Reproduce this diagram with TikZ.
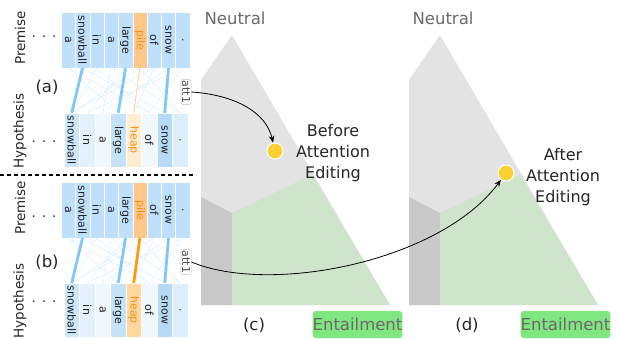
\documentclass[tikz,border=0pt]{standalone}
\usepackage{fontspec}
\setmainfont{DejaVu Sans}
\usetikzlibrary{arrows.meta}
\definecolor{premblue}{HTML}{BEE0FA}
\definecolor{pileorange}{HTML}{FFC88A}
\definecolor{wordorange}{HTML}{FF8C1A}
\definecolor{tokfg}{HTML}{222222}
\definecolor{heapa}{HTML}{FFEDD2}
\definecolor{heapb}{HTML}{FFD79F}
\definecolor{hypa}{HTML}{CFE7FA}
\definecolor{hypb}{HTML}{E2F1FC}
\definecolor{hypc}{HTML}{F0F7FE}
\definecolor{hypd}{HTML}{C4E2F8}
\definecolor{hype}{HTML}{B6DAF5}
\definecolor{hypf}{HTML}{DDEEFB}
\definecolor{linkblue}{HTML}{80C6F7}
\definecolor{linkorange}{HTML}{FF9A0A}
\definecolor{neutralgray}{HTML}{E3E3E3}
\definecolor{contragray}{HTML}{C9C9C9}
\definecolor{entailgreen}{HTML}{CFE5CB}
\definecolor{entailbox}{HTML}{80E680}
\definecolor{labelgray}{HTML}{6A6A6A}
\definecolor{dotyellow}{HTML}{F9D132}
\tikzset{
  premtok/.style = {inner sep=0pt, minimum width=14.33pt, minimum height=56pt,
    draw=white, line width=0.3pt, font=\fontsize{11}{12}\selectfont},
  hyptok/.style = {premtok, minimum width=15.5pt, minimum height=54pt},
  faintlink/.style = {draw=linkblue!28, line width=0.5pt},
  stronglink/.style = {draw=linkblue, line width=2.8pt},
  attbox/.style = {draw=black!25, fill=white, rounded corners=2pt, inner sep=1.2pt,
    text=black!70, font=\fontsize{11}{12}\selectfont},
  sidelabel/.style = {font=\fontsize{13.5}{15}\selectfont, text=black!85},
  apex/.style = {text=labelgray, font=\fontsize{16.5}{18}\selectfont},
  entail/.style = {fill=entailbox, rounded corners=3pt, minimum width=89pt,
    minimum height=27pt, inner sep=0pt, text=labelgray, font=\fontsize{16.5}{18}\selectfont},
  scorept/.style = {circle, fill=dotyellow, draw=white, line width=1pt,
    minimum size=16pt, inner sep=0pt},
  edittext/.style = {align=center, font=\fontsize{16}{21}\selectfont, text=black!85}
}

\begin{document}
\begin{tikzpicture}[x=1pt,y=-1pt,>={Stealth[length=7pt,width=5.5pt]}]
  \useasboundingbox (0,0) rectangle (618,339);
  % simplex panels
  \foreach \s/\n/\lx in {0/c/254,208/d/259} {
    \begin{scope}[xshift=\s]
      \fill[neutralgray] (201,80) -- (232,35) -- (390,305) -- (201,305) -- cycle;
      \fill[contragray] (201,197) -- (232,213) -- (232,305) -- (201,305) -- cycle;
      \fill[entailgreen] (232,213) -- (312,175) -- (390,305) -- (232,305) -- cycle;
      \node[apex] (neutral\n) at (235,18) {Neutral};
      \node[entail] (entail\n) at (357.5,324.5) {Entailment};
      \node[sidelabel, font=\fontsize{16.5}{18}\selectfont] (panel\n) at (\lx,325) {(\n)};
    \end{scope}
  }
  % attention views
  \foreach \p/\dy/\heapc/\oc/\lw/\ya/\yb/\ty in
      {a/0/heapa/linkorange!45/0.8pt/37/142/87,b/170/heapb/linkorange/2.8pt/217/302/262} {
    \foreach \w/\cl/\tc [count=\i] in {a/premblue/tokfg,snowball/premblue/tokfg,in/premblue/tokfg,a/premblue/tokfg,large/premblue/tokfg,pile/pileorange/wordorange,of/premblue/tokfg,snow/premblue/tokfg,./premblue/tokfg}
      \node[premtok, fill=\cl, text=\tc] (p\p\i) at ({61+14.33*(\i-0.5)},{40+\dy}) {\rotatebox{-90}{\w}};
    \foreach \w/\cl/\tc [count=\i] in {snowball/hypa/tokfg,in/hypb/tokfg,a/hypc/tokfg,large/hypd/tokfg,heap/\heapc/wordorange,of/hypc/tokfg,snow/hype/tokfg,./hypf/tokfg}
      \node[hyptok, fill=\cl, text=\tc] (h\p\i) at ({64+15.5*(\i-0.5)},{140+\dy}) {\rotatebox{-90}{\w}};
    % weak links
    \foreach \s/\e in {1/4,2/7,3/1,3/6,4/8,5/2,6/8,7/1,7/5,8/3,9/2,9/6,1/6,4/3,6/1}
      \draw[faintlink] (p\p\s.south) -- (h\p\e.north);
    % strong links
    \draw[stronglink] (p\p2.south) -- (h\p1.north);
    \draw[stronglink] (p\p5.south) -- (h\p4.north);
    \draw[stronglink] (p\p8.south) -- (h\p7.north);
    \draw[draw=\oc, line width=\lw] (p\p6.south) -- (h\p5.north);
    \node[attbox] (att\p) at (186,{92+\dy}) {\rotatebox{-90}{att1}};
    % side labels
    \node[sidelabel, rotate=90] (prem\p) at (20,{38+\dy}) {Premise};
    \node[sidelabel, rotate=90] (hyp\p) at (20,{131+\dy}) {Hypothesis};
    \node[sidelabel] (pdots\p) at (44,\ya) {.\hspace{6pt}.\hspace{6pt}.};
    \node[sidelabel] (hdots\p) at (44,\yb) {.\hspace{6pt}.\hspace{6pt}.};
    \node[sidelabel, font=\fontsize{16.5}{18}\selectfont] (tag\p) at (47,\ty) {(\p)};
  }
  \draw[dashed, dash pattern=on 4pt off 3pt, line width=1.2pt] (0,175) -- (196,175);
  % predictions
  \node[scorept] (before) at (275,151) {};
  \node[scorept] (after) at (506,173) {};
  \node[edittext] (beforetext) at (333,153) {Before\\Attention\\Editing};
  \node[edittext] (aftertext) at (563,177) {After\\Attention\\Editing};
  \draw[->, line width=0.8pt] (atta.east) .. controls (235,95) and (266,112) .. (before);
  \draw[->, line width=0.8pt] (attb.east) .. controls (270,295) and (440,262) .. (after);
\end{tikzpicture}
\end{document}
